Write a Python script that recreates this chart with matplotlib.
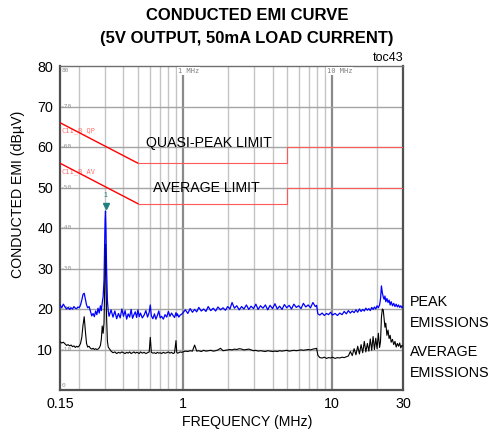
import matplotlib
matplotlib.use("Agg")
import matplotlib.pyplot as plt

# ---------------- data ----------------
f1 = [0.150, 0.154, 0.158, 0.162, 0.166, 0.170, 0.174, 0.178, 0.182, 0.186,
      0.190, 0.194, 0.198, 0.202, 0.206, 0.210, 0.214, 0.218, 0.222, 0.226,
      0.230, 0.235, 0.240, 0.245, 0.250, 0.255, 0.260, 0.265, 0.270, 0.275,
      0.280, 0.284, 0.288, 0.292, 0.296, 0.299, 0.301, 0.303, 0.305, 0.308,
      0.312, 0.316, 0.320]
peak1 = [21.0, 20.3, 21.2, 20.5, 20.0, 20.4, 19.9, 20.3, 20.0, 20.6,
         20.2, 20.1, 20.5, 20.3, 21.0, 22.2, 23.6, 23.9, 22.5, 21.0,
         20.3, 20.6, 19.4, 18.3, 18.9, 18.1, 19.5, 18.6, 20.2, 19.0,
         20.8, 19.6, 21.5, 23.0, 27.0, 36.0, 42.0, 44.2, 40.0, 30.0,
         22.0, 19.5, 18.2]
avg1 = [11.9, 11.6, 11.8, 11.4, 11.0, 11.2, 10.9, 11.1, 10.7, 10.9,
        10.5, 10.8, 10.6, 10.9, 11.5, 13.0, 16.0, 18.1, 14.5, 11.5,
        10.6, 10.8, 10.3, 10.1, 10.3, 10.0, 10.2, 10.0, 10.1, 10.4,
        11.0, 12.5, 15.8, 14.0, 16.5, 25.0, 33.0, 36.0, 30.0, 18.0,
        12.0, 10.6, 10.3]

f2 = [0.330, 0.340, 0.350, 0.360, 0.370, 0.380, 0.390, 0.400, 0.410, 0.420,
      0.430, 0.440, 0.450, 0.460, 0.470, 0.480, 0.490, 0.500, 0.510, 0.520,
      0.535, 0.550, 0.565, 0.580, 0.595, 0.605, 0.615, 0.630, 0.645, 0.660,
      0.675, 0.690, 0.705, 0.720, 0.740, 0.760, 0.780, 0.800, 0.820, 0.840,
      0.860, 0.880, 0.900, 0.910, 0.920, 0.940, 0.960, 0.980]
peak2 = [19.8, 18.0, 19.5, 17.6, 18.9, 17.8, 20.0, 18.2, 19.6, 17.5,
         18.8, 18.0, 19.9, 17.7, 18.6, 19.3, 17.9, 19.8, 18.1, 19.0,
         17.8, 18.5, 19.6, 18.0, 19.2, 21.0, 18.3, 17.6, 18.8, 17.5,
         18.4, 19.5, 17.8, 18.2, 17.5, 18.6, 18.0, 19.4, 18.2, 19.0,
         18.4, 17.9, 19.1, 18.3, 18.8, 18.0, 18.5, 18.7]
avg2 = [9.6, 9.2, 9.4, 9.0, 9.3, 9.1, 9.4, 9.2, 9.0, 9.3,
        9.1, 9.4, 9.0, 9.2, 9.4, 9.1, 9.3, 9.2, 9.0, 9.4,
        9.1, 9.3, 9.0, 9.2, 9.4, 13.0, 9.3, 9.1, 9.2, 9.0,
        9.3, 9.1, 9.2, 9.0, 9.3, 9.1, 9.2, 9.4, 9.1, 9.3,
        9.0, 9.2, 12.2, 9.3, 9.1, 9.2, 9.4, 9.3]

f3 = [1.00, 1.04, 1.08, 1.12, 1.16, 1.20, 1.24, 1.28, 1.33, 1.38,
      1.43, 1.48, 1.54, 1.60, 1.66, 1.72, 1.79, 1.86, 1.93, 2.00,
      2.07, 2.14, 2.22, 2.30, 2.39, 2.48, 2.57, 2.67, 2.77, 2.87,
      2.98, 3.09, 3.20, 3.32, 3.45, 3.58, 3.71, 3.85, 4.00, 4.15,
      4.30, 4.46, 4.63, 4.80, 4.98, 5.17, 5.36, 5.56, 5.77, 5.99,
      6.21, 6.44, 6.68, 6.93, 7.19, 7.46, 7.74, 7.90]
peak3 = [19.0, 19.8, 18.9, 20.1, 19.2, 19.9, 19.3, 20.4, 19.5, 20.0,
         19.4, 20.6, 19.6, 20.2, 19.5, 20.5, 19.8, 20.3, 19.7, 20.6,
         20.0, 21.6, 20.2, 20.8, 19.8, 20.6, 20.0, 21.0, 19.9, 20.7,
         20.1, 21.2, 19.9, 20.8, 20.2, 21.0, 19.8, 20.9, 20.1, 21.3,
         20.0, 20.7, 19.9, 21.1, 20.3, 20.9, 20.0, 21.2, 20.4, 20.8,
         20.1, 21.4, 20.5, 21.0, 20.3, 21.6, 20.6, 20.9]
avg3 = [9.4, 9.6, 9.5, 9.7, 9.6, 11.1, 9.6, 9.7, 9.5, 9.8,
        9.6, 9.7, 9.8, 9.6, 9.7, 9.9, 10.3, 9.7, 9.8, 9.9,
        10.0, 9.9, 10.1, 10.0, 10.2, 10.1, 9.9, 10.0, 10.1, 9.9,
        9.7, 9.8, 9.6, 9.7, 9.6, 9.5, 9.7, 9.6, 9.5, 9.6,
        9.5, 9.7, 9.6, 9.7, 9.8, 9.6, 9.7, 9.8, 9.7, 9.8,
        9.9, 9.8, 9.9, 10.0, 9.9, 10.1, 10.2, 10.3]

f4 = [8.05, 8.3, 8.6, 8.9, 9.2, 9.5, 9.8, 10.1, 10.5, 10.9,
      11.3, 11.7, 12.1, 12.5, 12.9, 13.3, 13.7, 14.1, 14.5, 14.9,
      15.3, 15.7, 16.1, 16.5, 16.9, 17.3, 17.7, 18.1, 18.5, 18.9,
      19.3, 19.7, 20.1, 20.5, 20.9, 21.2, 21.5, 21.8, 22.1, 22.4,
      22.7, 23.0, 23.4, 23.8, 24.2, 24.6, 25.0, 25.5, 26.0, 26.5,
      27.0, 27.5, 28.0, 28.5, 29.0, 29.5, 30.0]
peak4 = [18.8, 18.5, 19.0, 18.4, 18.9, 18.6, 19.2, 18.5, 18.9, 18.4,
         19.0, 18.6, 19.4, 18.8, 19.6, 19.0, 19.5, 19.1, 19.8, 19.2,
         20.0, 19.4, 19.9, 19.5, 20.2, 19.7, 20.1, 19.6, 20.4, 19.9,
         20.5, 20.0, 20.8, 20.3, 21.0, 22.5, 25.7, 24.0, 23.0, 22.4,
         23.2, 21.8, 22.6, 21.6, 22.2, 21.0, 21.8, 20.8, 21.4, 20.6,
         21.2, 20.5, 21.0, 20.4, 20.8, 20.3, 20.6]
avg4 = [8.6, 8.0, 7.9, 8.1, 7.8, 8.0, 7.9, 8.1, 7.8, 8.0,
        7.9, 8.1, 8.0, 8.2, 8.4, 9.5, 8.5, 10.2, 8.7, 10.8,
        8.9, 11.2, 9.2, 12.0, 9.4, 11.5, 9.6, 12.6, 9.8, 13.2,
        10.0, 12.8, 10.2, 14.0, 10.5, 12.0, 18.0, 20.0, 19.8, 17.6,
        15.5, 16.5, 13.5, 14.8, 12.7, 13.5, 11.8, 12.5, 11.2, 12.0,
        10.6, 11.5, 10.8, 11.6, 10.4, 11.0, 10.9]

freq = f1 + f2 + f3 + f4
peak_emissions = peak1 + peak2 + peak3 + peak4
avg_emissions = avg1 + avg2 + avg3 + avg4

# CISPR class B limits: sloped part and flat parts
qp_slope_f = [0.15, 0.5]
qp_slope_v = [66, 56]
qp_flat_f = [0.5, 5.0, 5.0, 30.0]
qp_flat_v = [56, 56, 60, 60]
av_slope_f = [0.15, 0.5]
av_slope_v = [56, 46]
av_flat_f = [0.5, 5.0, 5.0, 30.0]
av_flat_v = [46, 46, 50, 50]

peak_marker_f = 0.303
peak_marker_v = 45.5

ytick_vals = [10, 20, 30, 40, 50, 60, 70, 80]
xtick_vals = [0.15, 1, 10, 30]
xtick_labels = ["0.15", "1", "10", "30"]
minor_grid_f = [0.2, 0.3, 0.4, 0.5, 0.6, 0.7, 0.8, 0.9,
                2, 3, 4, 5, 6, 7, 8, 9, 20]
major_grid_f = [1, 10]
hgrid_vals = [10, 20, 30, 40, 50, 60, 70]

# ---------------- style ----------------
FAM = ["Liberation Sans", "DejaVu Sans"]
plt.rcParams['font.family'] = FAM
mono = "DejaVu Sans Mono"

fig = plt.figure(figsize=(4.90, 4.33), dpi=100)
W, H = 490, 433
L, R, T, B = 60, 403, 66, 390
ax = fig.add_axes([L / W, 1 - B / H, (R - L) / W, (B - T) / H])
ax.set_xscale('log')
ax.set_xlim(0.15, 30)
ax.set_ylim(0, 80)

def px(x, y):
    return (x / W, 1 - y / H)

# grid
for g in minor_grid_f:
    ax.axvline(g, color='#c4c4c4', lw=1.0, zorder=1)
for g in major_grid_f:
    ax.axvline(g, color='#8a8a8a', lw=1.6, zorder=1)
for v in hgrid_vals:
    ax.axhline(v, color='#a4a4a4', lw=1.0, zorder=1)

# small in-plot labels
for v in hgrid_vals:
    ax.text(0.152, v, "-%d" % v, fontsize=4.5, family=mono, color='#909090',
            va='center', ha='left', zorder=3)
ax.text(0.153, 78.8, "80", fontsize=4.5, family=mono, color='#909090',
        va='center', ha='left', zorder=3)
ax.text(0.153, 1.2, "0", fontsize=4.5, family=mono, color='#909090',
        va='center', ha='left', zorder=3)
ax.text(0.93, 78.8, "1 MHz", fontsize=5, family=mono, color='#808080',
        va='center', ha='left', zorder=3,
        bbox=dict(facecolor='white', edgecolor='none', pad=0.5))
ax.text(9.3, 78.8, "10 MHz", fontsize=5, family=mono, color='#808080',
        va='center', ha='left', zorder=3,
        bbox=dict(facecolor='white', edgecolor='none', pad=0.5))

# limits
ax.plot(qp_slope_f, qp_slope_v, color='#ff0000', lw=1.0, zorder=4)
ax.plot(av_slope_f, av_slope_v, color='#ff0000', lw=1.0, zorder=4)
ax.plot(qp_flat_f, qp_flat_v, color='#ff5a5a', lw=0.8, zorder=4)
ax.plot(av_flat_f, av_flat_v, color='#ff5a5a', lw=0.8, zorder=4)
ax.text(0.153, 64.0, "C11_B_QP", fontsize=5, family=mono, color='#ff7070',
        va='center', ha='left', zorder=3)
ax.text(0.153, 54.0, "C11_B_AV", fontsize=5, family=mono, color='#ff7070',
        va='center', ha='left', zorder=3)

# emissions
ax.plot(freq, avg_emissions, color='black', lw=0.8, zorder=5)
ax.plot(freq, peak_emissions, color='#0000ff', lw=0.9, zorder=6)

# marker
ax.plot([peak_marker_f], [peak_marker_v], marker='v', color='#208080',
        markersize=4.5, zorder=7, linestyle='none')
ax.text(peak_marker_f, peak_marker_v + 1.6, "1", fontsize=5, color='#208080',
        ha='center', va='bottom', zorder=7)

# annotations
fig.text(*px(209, 143), "QUASI-PEAK LIMIT", fontsize=10.2, ha='center', va='center', zorder=8)
fig.text(*px(206, 188.5), "AVERAGE LIMIT", fontsize=10.2, ha='center', va='center', zorder=8)

# axes styling
for s in ['left', 'right', 'bottom']:
    ax.spines[s].set_color('#505050')
    ax.spines[s].set_linewidth(1.6)
ax.spines['top'].set_color('#707070')
ax.spines['top'].set_linewidth(1.0)
ax.set_yticks(ytick_vals)
ax.set_yticklabels([str(v) for v in ytick_vals], fontsize=10.3)
ax.set_xticks(xtick_vals)
ax.set_xticklabels(xtick_labels, fontsize=10.3)
ax.minorticks_off()
ax.tick_params(axis='y', length=0, pad=5)
ax.tick_params(axis='x', length=0, pad=5)

# titles and labels
fig.text(*px(247, 16), "CONDUCTED EMI CURVE", fontsize=12, fontweight='bold',
         ha='center', va='center')
fig.text(*px(247, 38), "(5V OUTPUT, 50mA LOAD CURRENT)", fontsize=12,
         fontweight='bold', ha='center', va='center')
fig.text(*px(403, 58), "toc43", fontsize=9, ha='right', va='center')
fig.text(*px(18, 194), "CONDUCTED EMI (dBµV)", fontsize=10.2, rotation=90,
         ha='center', va='center')
fig.text(*px(247, 422), "FREQUENCY (MHz)", fontsize=10.2, ha='center', va='center')

fig.text(*px(410, 302), "PEAK", fontsize=10.4, ha='left', va='center')
fig.text(*px(410, 323), "EMISSIONS", fontsize=10.4, ha='left', va='center')
fig.text(*px(410, 352), "AVERAGE", fontsize=10.4, ha='left', va='center')
fig.text(*px(410, 373), "EMISSIONS", fontsize=10.4, ha='left', va='center')

fig.savefig("out.png", dpi=100)
